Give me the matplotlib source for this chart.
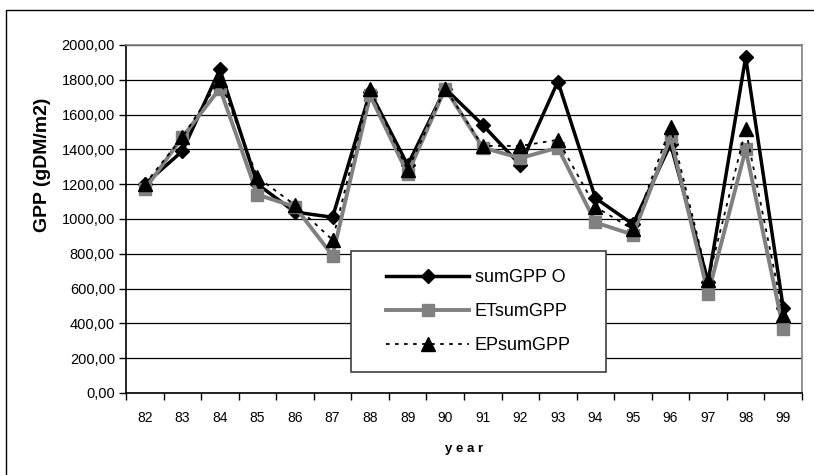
import numpy as np
import matplotlib
matplotlib.use("Agg")
import matplotlib.pyplot as plt
from matplotlib.patches import Rectangle

plt.rcParams['font.family'] = ['Liberation Sans', 'DejaVu Sans']

# data
years = ['82', '83', '84', '85', '86', '87', '88', '89', '90',
         '91', '92', '93', '94', '95', '96', '97', '98', '99']
sum_gpp_o = [1200, 1390, 1860, 1200, 1040, 1010, 1730, 1310, 1750,
             1540, 1310, 1790, 1120, 970, 1430, 640, 1930, 490]
et_sum_gpp = [1170, 1470, 1750, 1140, 1070, 790, 1710, 1260, 1750,
              1410, 1350, 1410, 980, 910, 1470, 570, 1400, 370]
ep_sum_gpp = [1200, 1470, 1800, 1240, 1080, 880, 1745, 1280, 1750,
              1420, 1420, 1455, 1070, 940, 1530, 650, 1515, 450]
y_ticks = np.arange(0, 2001, 200)

W, H = 814, 475
fig = plt.figure(figsize=(W / 100, H / 100), dpi=100)
ax = fig.add_axes([126 / W, 1 - 393 / H, (802 - 126) / W, (393 - 45) / H])

x = np.arange(len(years))

# outer chart border (only left/top visible in the reference)
fig.patches.append(Rectangle((6 / W, -0.2), 2.0, 1.2 - 10 / H, transform=fig.transFigure,
                             fill=False, edgecolor='black', linewidth=1.0))

ax.plot(x, sum_gpp_o, color='black', lw=2.5, marker='D', ms=7.5, label='sumGPP O', zorder=3)
ax.plot(x, et_sum_gpp, color='#808080', lw=2.8, marker='s', ms=8.5,
        label='ETsumGPP', zorder=3)
ax.plot(x, ep_sum_gpp, color='black', lw=1.3, ls=(0, (2, 3)), marker='^', ms=10,
        label='EPsumGPP', zorder=3)

ax.set_xlim(-0.5, len(years) - 0.5)
ax.set_ylim(0, 2000)
ax.set_yticks(y_ticks)
ax.set_yticklabels([f"{v:.2f}".replace('.', ',') for v in y_ticks], fontsize=10.5)
ax.yaxis.grid(True, color='black', lw=0.9)
ax.set_axisbelow(True)

ax.set_xticks(x)
ax.set_xticklabels(years, fontsize=10)
ax.set_xticks(np.arange(-0.5, len(years)), minor=True)
ax.tick_params(axis='x', which='major', length=0, pad=13)
ax.tick_params(axis='x', which='minor', length=5, width=1, direction='out')
ax.tick_params(axis='y', length=5, width=1, direction='out', pad=3)

for s in ['left', 'bottom']:
    ax.spines[s].set_color('black')
    ax.spines[s].set_linewidth(1.2)
for s in ['top', 'right']:
    ax.spines[s].set_color('#808080')
    ax.spines[s].set_linewidth(1.2)

ax.set_ylabel('GPP (gDM/m2)', fontsize=14, fontweight='bold')
ax.yaxis.set_label_coords(-(126 - 51) / 676, (393 - 165) / 348)
ax.set_xlabel('y e a r', fontsize=9.5, fontweight='bold')
ax.xaxis.set_label_coords(0.5, -(443 - 393) / 348)

# legend box
x0, x1 = (351 - 126) / 676, (606 - 126) / 676
y0, y1 = (393 - 372) / 348, (393 - 251) / 348
ax.add_patch(Rectangle((x0, y0), x1 - x0, y1 - y0, transform=ax.transAxes,
                       facecolor='white', edgecolor='#404040', lw=1.2, zorder=4))
ax.legend(loc='center', bbox_to_anchor=((x0 + x1) / 2, (y0 + y1) / 2),
          frameon=False, fontsize=13, handlelength=4.6, handletextpad=0.3,
          labelspacing=0.95)

fig.savefig('out.png', dpi=100)
